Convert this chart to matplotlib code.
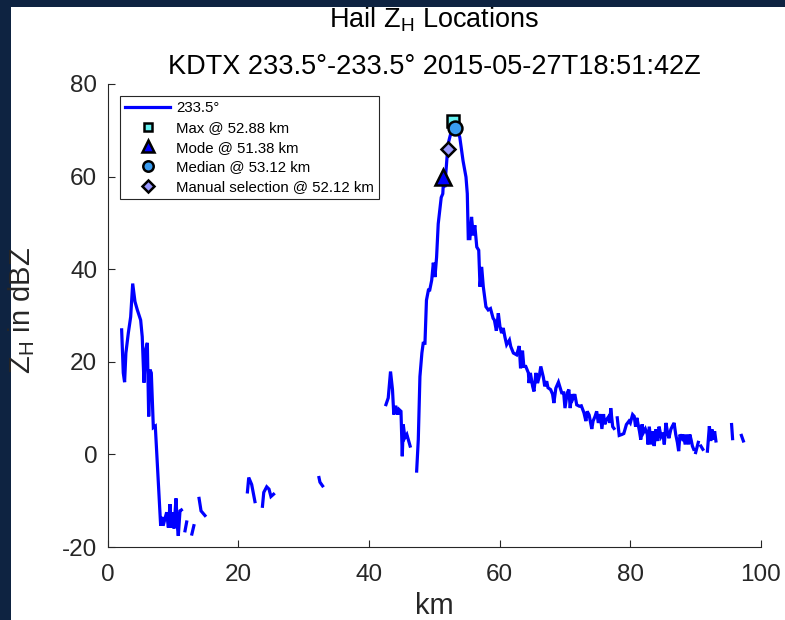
import numpy as np
import matplotlib
matplotlib.use("Agg")
import matplotlib.pyplot as plt
from matplotlib.patches import Rectangle

plt.rcParams['font.family'] = ['Liberation Sans', 'DejaVu Sans']
plt.rcParams['mathtext.fontset'] = 'custom'
plt.rcParams['mathtext.rm'] = 'Liberation Sans'
plt.rcParams['mathtext.it'] = 'Liberation Sans:italic'
plt.rcParams['mathtext.bf'] = 'Liberation Sans:bold'
plt.rcParams['axes.unicode_minus'] = False

nan = np.nan
# Range (km) and reflectivity (dBZ) along the 233.5 deg radial; NaN = gap
dist_km = [
    2.15, 2.4, 2.6, 2.8, 3.17, 3.53, 3.84, 4.19, 4.55, 5.06, 5.3, 5.57, 5.83, 6.08,
    6.29, 6.49, 6.69, 7.0, 7.3, 8.12, 8.3, 8.5, 9.04, 9.3, 9.55, 9.75, 9.96, 10.16,
    10.47, 10.67, 10.82, 11.08, 11.29, nan,
    11.85, 12.1, nan,
    12.9, 13.2, nan,
    14.0, 14.3, 14.9, nan,
    21.4, 21.6, 22.05, 22.55, nan,
    23.7, 23.9, 24.35, 24.7, 25.0, 25.4, nan,
    32.35, 32.5, 32.9, nan,
    42.6, 42.95, 43.3, 43.6, 43.8, 44.1, 44.4, 44.6, 44.9, 45.1, 45.25, 45.5, 45.8,
    46.3, nan,
    47.3, 47.55, 47.8, 48.1, 48.3, 48.57, 48.8, 49.1, 49.3, 49.6, 49.85, 50.1, 50.35,
    50.6, 50.9, 51.06, 51.3, 51.43, 51.6, 51.9, 52.1, 52.5, 52.8, 53.1, 53.5, 53.9,
    54.4, 54.85, 55.05, 55.2, 55.45, 55.7, 55.96, 56.2, 56.5, 56.8, 57.0, 57.25, 57.5,
    57.9, 58.25, 58.6, 59.0, 59.2, 59.5, 59.8, 60.05, 60.3, 60.55, 60.8, 61.07, 61.5,
    61.7, 62.1, 62.6, 63.0, 63.2, 63.5, 63.7, 64.0, 64.4, 64.5, 64.7, 65.05, 65.25,
    65.55, 65.8, 66.06, 66.3, 66.7, 66.9, 67.2, 67.4, 67.8, 68.1, 68.3, 68.6, 69.0,
    69.5, 69.8, 70.0, 70.35, 70.6, 70.8, 71.0, 71.2, 71.5, 71.8, 72.2, 72.5, 72.9,
    73.2, 73.4, 73.7, 74.1, 74.3, 74.6, 74.85, 75.1, 75.4, 75.65, 75.9, 76.1, 76.4,
    76.7, 76.9, 77.0, 77.3, 77.5, nan,
    78.0, 78.3, 78.7, 79.0, 79.4, 79.8, 80.0, 80.35, 80.6, 80.8, 81.0, 81.4, 81.6,
    81.8, 82.0, 82.3, 82.6, 82.7, 82.9, 83.2, 83.5, 83.65, 83.9, 84.2, 84.4, 84.7,
    84.97, 85.2, 85.45, 85.7, 85.9, 86.2, 86.4, 86.7, 86.95, 87.2, 87.4, 87.6, 87.9,
    88.1, 88.4, 88.6, 88.9, 89.1, 89.3, 89.5, 89.7, nan,
    90.0, 90.4, nan,
    90.8, 91.1, nan,
    91.8, 92.1, 92.3, 92.5, 92.7, 92.9, 93.1, nan,
    95.5, 95.65, nan,
    97.0, 97.3,
]
zh_dbz = [
    26.9, 17.6, 15.6, 21.9, 26.2, 29.7, 36.9, 33.0, 31.2, 29.0, 25.4, 15.5, 22.6, 24.1,
    8.2, 18.3, 17.6, 5.8, 6.1, -15.4, -13.5, -15.4, -12.5, -15.8, -10.75, -15.8, -12.5, -16.0,
    -9.5, -15.4, -17.6, -12.2, -12.0, nan,
    -16.5, -14.6, nan,
    -17.2, -15.4, nan,
    -9.5, -12.2, -13.2, nan,
    -8.1, -5.0, -6.5, -10.2, nan,
    -11.2, -8.2, -7.0, -7.5, -9.1, -8.6, nan,
    -5.0, -6.0, -6.8, nan,
    10.75, 12.2, 17.9, 14.0, 8.6, 10.5, 8.6, 9.7, 9.3, -0.4, 6.45, 3.6, 4.3,
    1.8, nan,
    -3.6, 3.2, 16.8, 21.9, 24.0, 24.0, 33.3, 35.5, 35.5, 37.6, 41.4, 38.3, 42.6,
    49.8, 53.4, 55.5, 56.3, 59.8, 57.7, 63.4, 67.0, 69.2, 71.5, 71.0, 70.0, 68.5,
    63.4, 59.9, 56.3, 46.6, 46.6, 51.3, 47.3, 49.5, 44.8, 44.1, 36.2, 40.5, 36.2,
    31.9, 31.2, 31.5, 29.4, 29.0, 26.7, 30.5, 27.6, 26.2, 27.3, 25.4, 23.7, 24.7,
    23.3, 21.9, 21.5, 23.4, 18.6, 22.4, 19.0, 19.0, 17.6, 15.4, 17.6, 14.7, 13.6,
    17.6, 15.4, 16.8, 19.0, 16.6, 14.7, 15.8, 14.4, 14.0, 13.0, 11.1, 14.3, 15.6,
    13.3, 13.3, 10.0, 13.3, 14.0, 10.0, 13.0, 12.0, 13.0, 10.7, 10.4, 10.5, 9.0,
    7.2, 9.3, 8.5, 5.5, 7.2, 8.2, 9.3, 6.8, 8.7, 5.5, 8.7, 6.5, 7.6,
    8.2, 6.8, 10.0, 6.0, 5.6, nan,
    7.9, 4.1, 4.3, 4.5, 6.45, 7.2, 6.8, 8.6, 8.2, 6.0, 7.9, 5.0, 3.2,
    6.5, 4.7, 5.5, 4.3, 2.15, 6.0, 2.15, 5.0, 1.8, 5.4, 2.9, 6.0, 3.9,
    4.7, 2.15, 6.8, 4.7, 3.5, 5.4, 6.0, 6.8, 4.3, 2.6, 0.7, 4.3, 3.5,
    4.3, 2.15, 4.3, 2.15, 4.3, 3.2, 1.8, 1.1, nan,
    0.4, 2.6, nan,
    1.8, 1.1, nan,
    0.7, 6.1, 2.9, 5.4, 3.2, 5.0, 2.9, nan,
    6.45, 3.4, nan,
    4.1, 2.9,
]

line_label = '233.5°'
marker_labels = ['Max @ 52.88 km', 'Mode @ 51.38 km', 'Median @ 53.12 km',
                 'Manual selection @ 52.12 km']
marker_x = [52.88, 51.38, 53.12, 52.12]
marker_y = [72.0, 60.0, 70.5, 66.0]
marker_shapes = ['s', '^', 'o', 'D']
marker_faces = ['#66f2f2', '#0000ff', '#3a9cf0', '#9999ff']
marker_sizes = [8.5, 12, 10, 7.5]

xticks = [0, 20, 40, 60, 80, 100]
yticks = [-20, 0, 20, 40, 60, 80]

W, H = 785, 620
fig = plt.figure(figsize=(W / 100, H / 100), dpi=100, facecolor='#0e2341')
fig.patches.append(Rectangle((11 / W, 0), 1 - 11 / W, 1 - 7 / H,
                             transform=fig.transFigure, facecolor='white',
                             edgecolor='none', zorder=-10))

ax = fig.add_axes([107.6 / W, 1 - 547 / H, (761 - 107.6) / W, (547 - 84) / H])
ax.set_facecolor('white')
ax.plot(dist_km, zh_dbz, color='#0000ff', lw=2.3, label=line_label,
        solid_joinstyle='miter')
for lab, mx, my, mk, fc, ms in zip(marker_labels, marker_x, marker_y,
                                   marker_shapes, marker_faces, marker_sizes):
    ax.plot([mx], [my], linestyle='none', marker=mk, markersize=ms,
            markerfacecolor=fc, markeredgecolor='black', markeredgewidth=1.8,
            label=lab)

ax.set_xlim(0, 100)
ax.set_ylim(-20, 80)
ax.set_xticks(xticks)
ax.set_yticks(yticks)
for s in ['top', 'right']:
    ax.spines[s].set_visible(False)
for s in ['left', 'bottom']:
    ax.spines[s].set_color('#262626')
    ax.spines[s].set_linewidth(0.8)
ax.tick_params(axis='both', direction='in', length=5, width=0.8,
               colors='#262626', labelsize=17.5)
ax.tick_params(axis='x', pad=12.5)
ax.tick_params(axis='y', pad=7.5)

ax.set_xlabel('km', fontsize=21, color='#262626')
ax.xaxis.set_label_coords(0.5, (547 - 592) / 463)
ax.set_ylabel(r'Z$_\mathrm{H}$ in dBZ', fontsize=21, color='#262626')
ax.yaxis.set_label_coords((37 - 107.6) / 653.4, 0.51)

fig.text(434 / W, 1 - 27 / H, r'Hail Z$_\mathrm{H}$ Locations', ha='center',
         va='baseline', fontsize=19.5, color='black')
fig.text(434 / W, 1 - 74 / H, 'KDTX 233.5°-233.5° 2015-05-27T18:51:42Z',
         ha='center', va='baseline', fontsize=19.5, color='black')

leg = ax.legend(loc='upper left', bbox_to_anchor=(120 / W, 1 - 96 / H),
                bbox_transform=fig.transFigure, borderaxespad=0,
                fontsize=10.8, frameon=True, fancybox=False, framealpha=1,
                edgecolor='#262626', handlelength=3.0, handletextpad=0.4,
                labelspacing=0.38, borderpad=0.35, markerscale=0.75)
leg.get_frame().set_linewidth(0.8)

fig.savefig('out.png', dpi=100, facecolor=fig.get_facecolor())
